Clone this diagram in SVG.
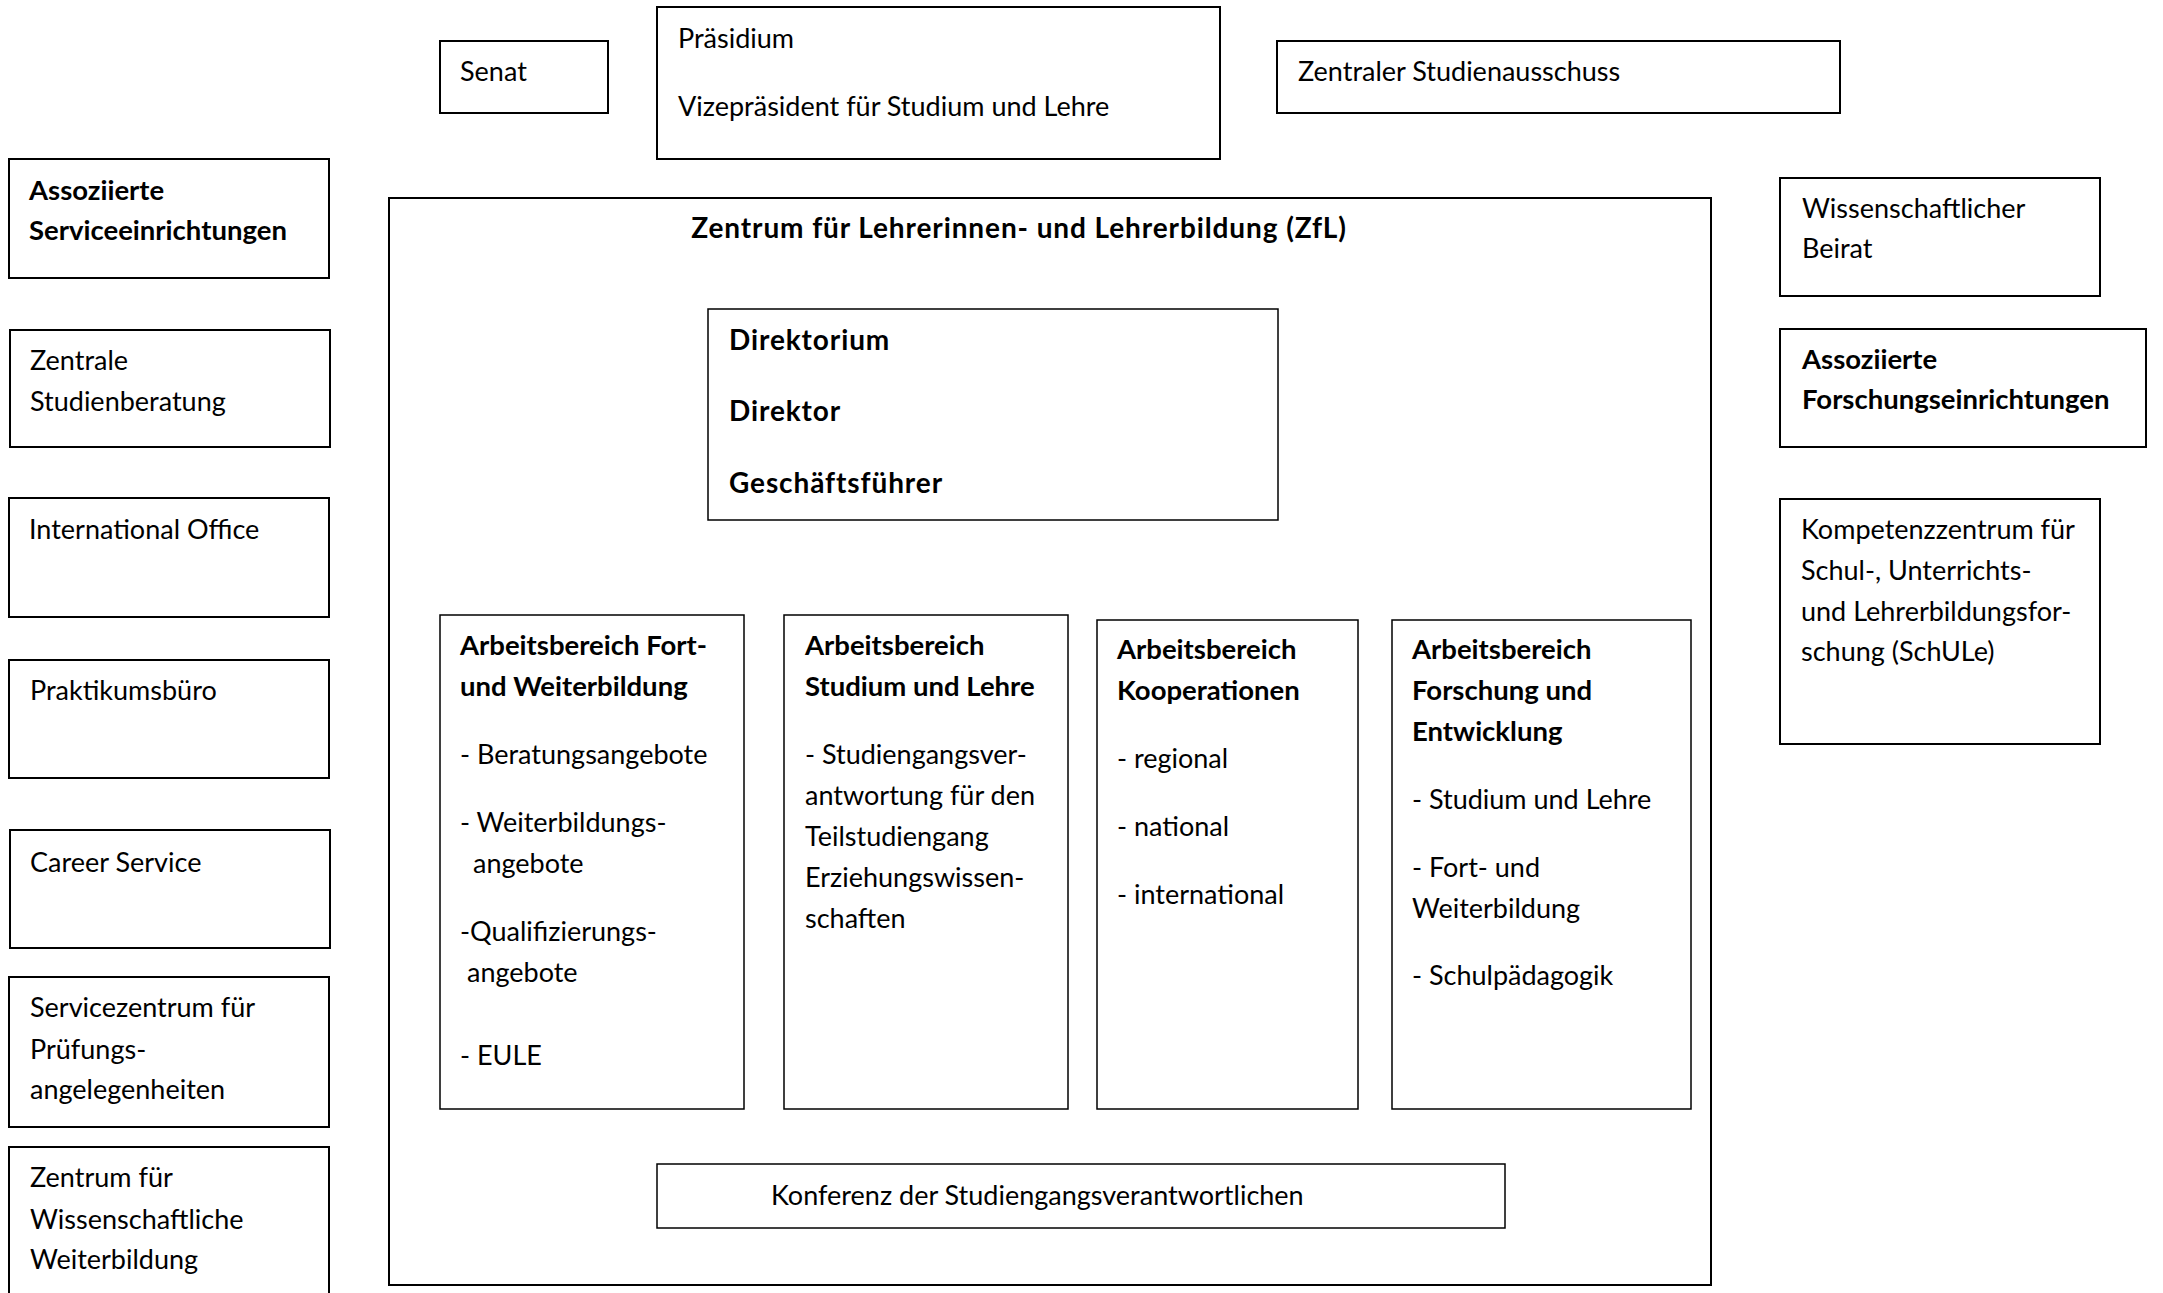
<svg xmlns="http://www.w3.org/2000/svg" width="2163" height="1293" viewBox="0 0 2163 1293">
<style>
  .box{fill:#fff;stroke:#000;stroke-width:2}
  .inner{fill:#fff;stroke:#000;stroke-width:1.5}
  text{font-family:Lato,"Open Sans","Liberation Sans",sans-serif;font-size:27px;fill:#000}
  .b{font-weight:bold;font-size:28px;letter-spacing:0.9px}
  .bb{font-weight:bold;font-size:27.5px}
</style>
<rect width="2163" height="1293" fill="#fff"/>
<g id="zfl">
  <rect class="box" x="389" y="198" width="1322" height="1087"/>
  <text class="b" x="1019" y="238" text-anchor="middle">Zentrum für Lehrerinnen- und Lehrerbildung (ZfL)</text>
</g>
<g id="senat">
  <rect class="box" x="440" y="41" width="168" height="72"/>
  <text x="460" y="81">Senat</text>
</g>
<g id="praesidium">
  <rect class="box" x="657" y="7" width="563" height="152"/>
  <text x="678" y="48">Präsidium</text>
  <text x="678" y="116">Vizepräsident für Studium und Lehre</text>
</g>
<g id="zsa">
  <rect class="box" x="1277" y="41" width="563" height="72"/>
  <text x="1298" y="81">Zentraler Studienausschuss</text>
</g>
<g id="ase">
  <rect class="box" x="9" y="159" width="320" height="119"/>
  <text class="bb" x="29" y="200">Assoziierte</text>
  <text class="bb" x="29" y="240">Serviceeinrichtungen</text>
</g>
<g id="zsb">
  <rect class="box" x="10" y="330" width="320" height="117"/>
  <text x="30" y="370">Zentrale</text>
  <text x="30" y="411">Studienberatung</text>
</g>
<g id="io">
  <rect class="box" x="9" y="498" width="320" height="119"/>
  <text x="29" y="539">International Office</text>
</g>
<g id="pb">
  <rect class="box" x="9" y="660" width="320" height="118"/>
  <text x="30" y="700">Praktikumsbüro</text>
</g>
<g id="cs">
  <rect class="box" x="10" y="830" width="320" height="118"/>
  <text x="30" y="872">Career Service</text>
</g>
<g id="szp">
  <rect class="box" x="9" y="977" width="320" height="150"/>
  <text x="30" y="1017">Servicezentrum für</text>
  <text x="30" y="1059">Prüfungs-</text>
  <text x="30" y="1099">angelegenheiten</text>
</g>
<g id="zww">
  <rect class="box" x="9" y="1147" width="320" height="160"/>
  <text x="30" y="1187">Zentrum für</text>
  <text x="30" y="1229">Wissenschaftliche</text>
  <text x="30" y="1269">Weiterbildung</text>
</g>
<g id="wb">
  <rect class="box" x="1780" y="178" width="320" height="118"/>
  <text x="1802" y="218">Wissenschaftlicher</text>
  <text x="1802" y="258">Beirat</text>
</g>
<g id="afe">
  <rect class="box" x="1780" y="329" width="366" height="118"/>
  <text class="bb" x="1802" y="369">Assoziierte</text>
  <text class="bb" x="1802" y="409">Forschungseinrichtungen</text>
</g>
<g id="schule">
  <rect class="box" x="1780" y="499" width="320" height="245"/>
  <text x="1801" y="539">Kompetenzzentrum für</text>
  <text x="1801" y="580">Schul-, Unterrichts-</text>
  <text x="1801" y="621">und Lehrerbildungsfor-</text>
  <text x="1801" y="661">schung (SchULe)</text>
</g>
<g id="direktorium">
  <rect class="inner" x="708" y="309" width="570" height="211"/>
  <text class="b" x="729" y="350">Direktorium</text>
  <text class="b" x="729" y="421">Direktor</text>
  <text class="b" x="729" y="493">Geschäftsführer</text>
</g>
<g id="ab-fw">
  <rect class="inner" x="440" y="615" width="304" height="494"/>
  <text class="bb" x="460" y="655">Arbeitsbereich Fort-</text>
  <text class="bb" x="460" y="696">und Weiterbildung</text>
  <text x="460" y="764">- Beratungsangebote</text>
  <text x="460" y="832">- Weiterbildungs-</text>
  <text x="473" y="873">angebote</text>
  <text x="460" y="941">-Qualifizierungs-</text>
  <text x="467" y="982">angebote</text>
  <text x="460" y="1065">- EULE</text>
</g>
<g id="ab-sl">
  <rect class="inner" x="784" y="615" width="284" height="494"/>
  <text class="bb" x="805" y="655">Arbeitsbereich</text>
  <text class="bb" x="805" y="696">Studium und Lehre</text>
  <text x="805" y="764">- Studiengangsver-</text>
  <text x="805" y="805">antwortung für den</text>
  <text x="805" y="846">Teilstudiengang</text>
  <text x="805" y="887">Erziehungswissen-</text>
  <text x="805" y="928">schaften</text>
</g>
<g id="ab-ko">
  <rect class="inner" x="1097" y="620" width="261" height="489"/>
  <text class="bb" x="1117" y="659">Arbeitsbereich</text>
  <text class="bb" x="1117" y="700">Kooperationen</text>
  <text x="1117" y="768">- regional</text>
  <text x="1117" y="836">- national</text>
  <text x="1117" y="904">- international</text>
</g>
<g id="ab-fe">
  <rect class="inner" x="1392" y="620" width="299" height="489"/>
  <text class="bb" x="1412" y="659">Arbeitsbereich</text>
  <text class="bb" x="1412" y="700">Forschung und</text>
  <text class="bb" x="1412" y="741">Entwicklung</text>
  <text x="1412" y="809">- Studium und Lehre</text>
  <text x="1412" y="877">- Fort- und</text>
  <text x="1412" y="918">Weiterbildung</text>
  <text x="1412" y="985">- Schulpädagogik</text>
</g>
<g id="konferenz">
  <rect class="inner" x="657" y="1164" width="848" height="64"/>
  <text x="771" y="1205">Konferenz der Studiengangsverantwortlichen</text>
</g>
<g id="connectors"></g>
</svg>
